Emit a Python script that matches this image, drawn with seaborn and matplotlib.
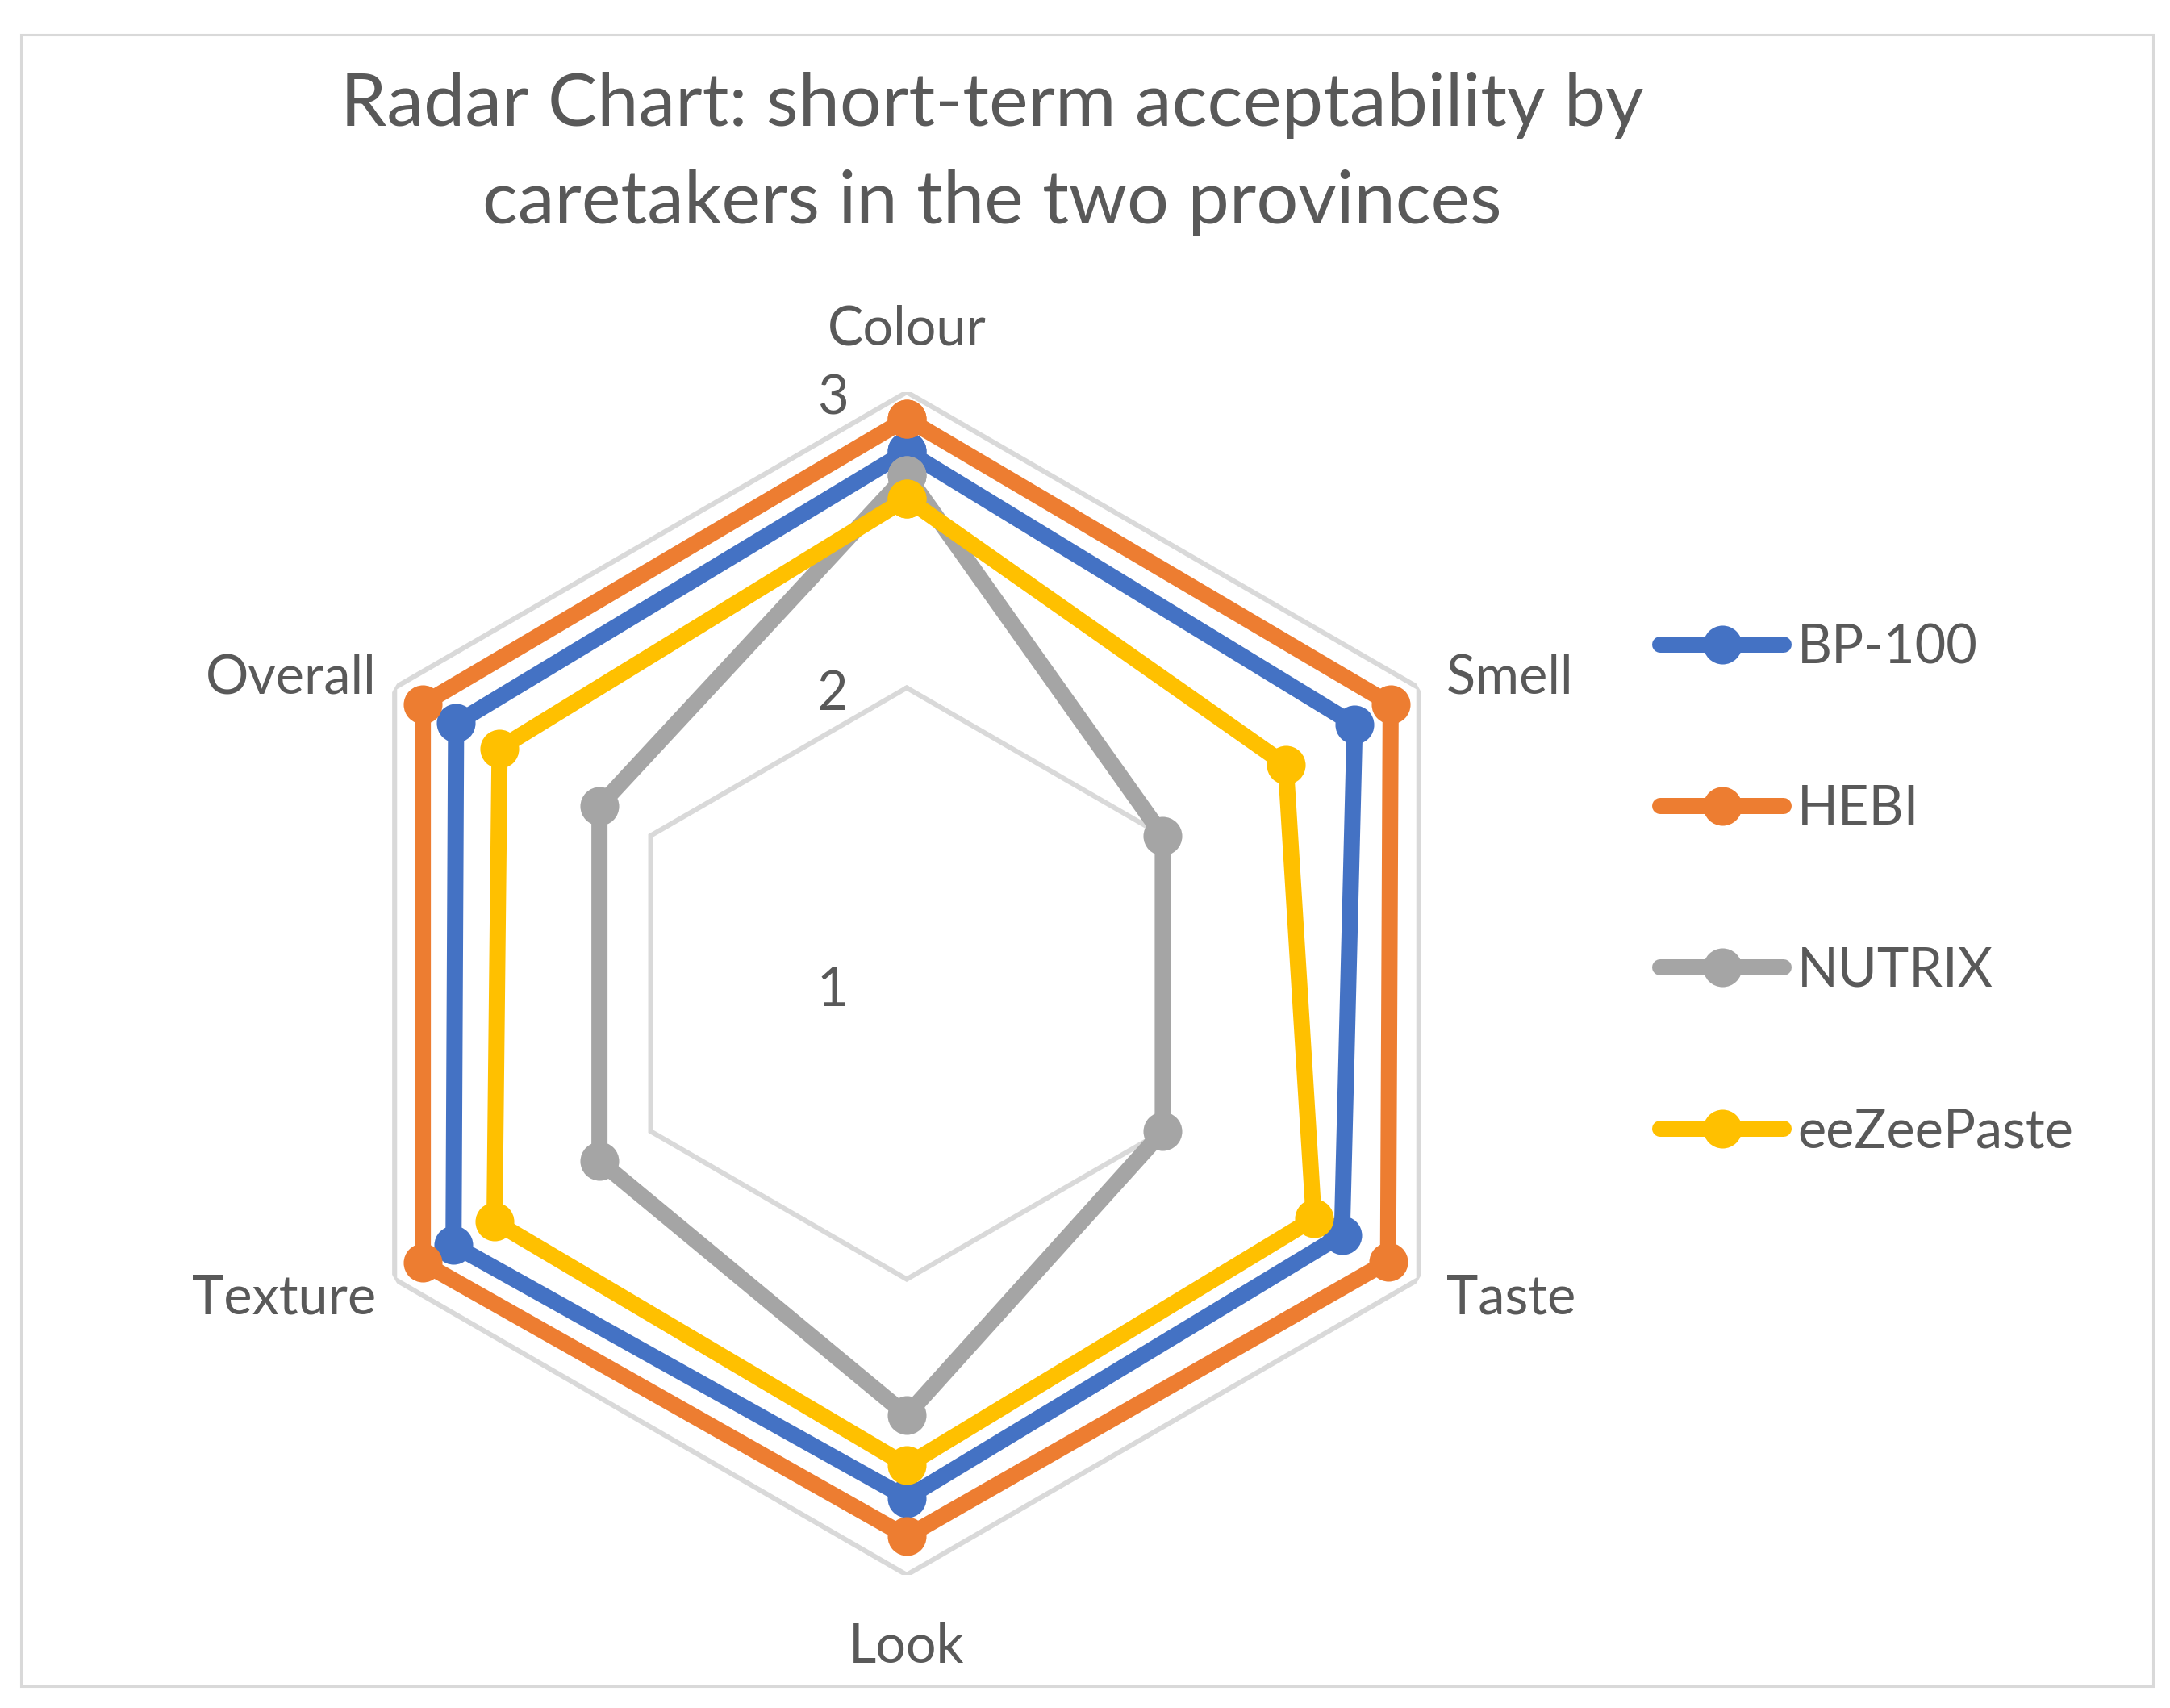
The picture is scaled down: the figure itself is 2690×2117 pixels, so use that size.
import numpy as np
import pandas as pd
import matplotlib
matplotlib.use("Agg")
import matplotlib.pyplot as plt
import seaborn as sns
from matplotlib.patches import Rectangle

# ---- data ----
categories = ["Colour", "Smell", "Taste", "Look", "Texture", "Overall"]
series_names = ["BP-100", "HEBI", "NUTRIX", "eeZeePaste"]
bp100 = [2.80, 2.75, 2.70, 2.74, 2.77, 2.76]
hebi = [2.91, 2.89, 2.88, 2.87, 2.89, 2.89]
nutrix = [2.72, 2.00, 2.00, 2.46, 2.20, 2.20]
eezee = [2.64, 2.48, 2.59, 2.63, 2.61, 2.59]
r_ticks = [1, 2, 3]
r_tick_labels = ["1", "2", "3"]
colors = ["#4472C4", "#ED7D31", "#A5A5A5", "#FFC000"]
title_lines = ["Radar Chart: short-term acceptability by",
               "caretakers in the two provinces"]

TEXT = "#595959"
GRID = "#D9D9D9"

sns.set_theme(style="white")
plt.rcParams["font.family"] = ["Lato", "DejaVu Sans"]

DPI = 200
W, H = 2690, 2117
fig = plt.figure(figsize=(W / DPI, H / DPI), dpi=DPI)
fig.patch.set_facecolor("white")

# polar axes: centre (1124,1219) px, radius 733 px
cx, cy, R = 1124, 1219, 733
ax = fig.add_axes([(cx - R) / W, (H - cy - R) / H, 2 * R / W, 2 * R / H],
                  projection="polar")
ax.set_theta_zero_location("N")
ax.set_theta_direction(-1)
ax.patch.set_visible(False)

n = len(categories)
theta = np.arange(n) * 2 * np.pi / n
theta_closed = np.append(theta, 2 * np.pi)

rows = []
for name, vals in zip(series_names, [bp100, hebi, nutrix, eezee]):
    vals_closed = list(vals) + [vals[0]]
    for t, v in zip(theta_closed, vals_closed):
        rows.append({"series": name, "theta": t, "value": v})
df = pd.DataFrame(rows)

# grid hexagons
for r in r_ticks[1:]:
    ax.plot(theta_closed, [r] * len(theta_closed), color=GRID, lw=2.2,
            zorder=1, solid_joinstyle="miter")

n_before = len(ax.get_lines())
sns.lineplot(data=df, x="theta", y="value", hue="series",
             hue_order=series_names, palette=colors, sort=False,
             estimator=None, marker="o", markersize=17.3,
             markeredgewidth=0, linewidth=7.2, ax=ax, legend=False,
             zorder=3)
series_lines = ax.get_lines()[n_before:n_before + len(series_names)]
for ln in series_lines:
    ln.set_solid_joinstyle("round")
    ln.set_solid_capstyle("round")

ax.set_ylim(r_ticks[0], r_ticks[-1])
ax.set_xticks([])
ax.set_yticks([])
ax.grid(False)
ax.spines["polar"].set_visible(False)
ax.set_xlabel("")
ax.set_ylabel("")

FS = 24
# category labels
offsets = [((0, 77), "center"), ((34, 12), "left"), ((34, -24), "left"),
           ((0, -90), "center"), ((-23, -24), "right"), ((-23, 12), "right")]
for t, lab, (off, ha) in zip(theta, categories, offsets):
    ax.annotate(lab, xy=(t, r_ticks[-1]), xytext=off,
                textcoords="offset pixels", ha=ha, va="center",
                fontsize=FS, color=TEXT, annotation_clip=False)

# radial tick labels
for r, lab in zip(r_ticks, r_tick_labels):
    ax.annotate(lab, xy=(0, r), xytext=(-92, -9), textcoords="offset pixels",
                ha="center", va="center", fontsize=FS, color=TEXT,
                annotation_clip=False)

# title
fig.text(1230 / W, 1 - 131 / H, title_lines[0], ha="center", va="center",
         fontsize=33, color=TEXT)
fig.text(1230 / W, 1 - 252 / H, title_lines[1], ha="center", va="center",
         fontsize=33, color=TEXT)

# legend
fig.legend(series_lines, series_names, loc="center left",
           bbox_to_anchor=(2058 / W, 1 - 1103.5 / H), frameon=False,
           fontsize=FS, handlelength=2.3, handletextpad=0.25,
           labelspacing=2.07, borderpad=0, borderaxespad=0,
           labelcolor=TEXT)

# chart border
fig.add_artist(Rectangle((26 / W, 27 / H), (2669 - 26) / W, (2090 - 43) / H,
                         transform=fig.transFigure, fill=False,
                         edgecolor=GRID, lw=1.1))

fig.savefig("out.png", dpi=DPI, facecolor="white")
